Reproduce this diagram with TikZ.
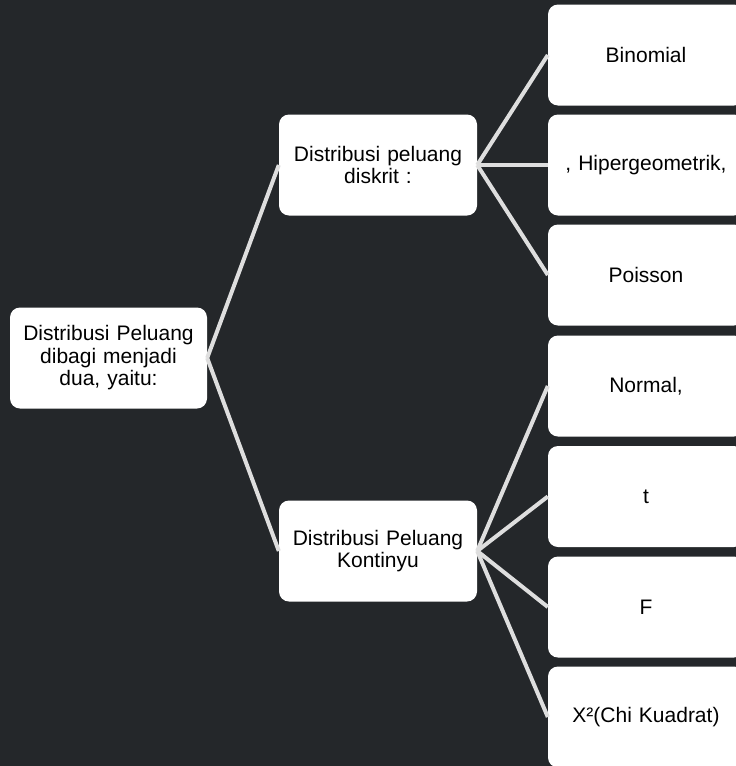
\documentclass[tikz,border=0pt]{standalone}
\usepackage{fontspec}
\setmainfont{Liberation Sans}
\usetikzlibrary{positioning}
\definecolor{slate}{RGB}{36,39,42}
\definecolor{linkgray}{RGB}{222,222,222}
\tikzset{
  box/.style={fill=white, rounded corners=10pt, align=center, inner sep=0pt,
    font=\fontsize{21}{22.5}\selectfont, minimum height=101pt},
  midbox/.style={box, minimum width=198pt, text width=192pt},
  leafbox/.style={box, minimum width=196pt, text width=192pt},
  link/.style={draw=linkgray, line width=4pt}
}

\begin{document}
\begin{tikzpicture}[x=1pt,y=-1pt]
\useasboundingbox (0,0) rectangle (736,766);
\clip (0,0) rectangle (736,766);
\fill[slate] (0,0) rectangle (736,766);

% kiri
\node[midbox, minimum width=197pt] (root) at (108.5,358) {Distribusi Peluang\\dibagi menjadi\\dua, yaitu:};

% tengah
\node[midbox] (diskrit) at (378,165) {Distribusi peluang\\diskrit :};
\node[midbox] (kontinyu) at (378,551) {Distribusi Peluang\\Kontinyu};

% kanan
\node[leafbox] (binom) at (646,55) {Binomial};
\node[leafbox] (hiper) at (646,165) {, Hipergeometrik,};
\node[leafbox] (poisson) at (646,275) {Poisson};
\node[leafbox] (normal) at (646,386) {Normal,};
\node[leafbox] (tdist) at (646,496.5) {t};
\node[leafbox] (fdist) at (646,607) {F};
\node[leafbox] (chi) at (646,717) {X²(Chi Kuadrat)};

\draw[link] (root.east) -- (diskrit.west);
\draw[link] (root.east) -- (kontinyu.west);
\draw[link] (diskrit.east) -- (binom.west);
\draw[link] (diskrit.east) -- (hiper.west);
\draw[link] (diskrit.east) -- (poisson.west);
\draw[link] (kontinyu.east) -- (normal.west);
\draw[link] (kontinyu.east) -- (tdist.west);
\draw[link] (kontinyu.east) -- (fdist.west);
\draw[link] (kontinyu.east) -- (chi.west);
\end{tikzpicture}
\end{document}
